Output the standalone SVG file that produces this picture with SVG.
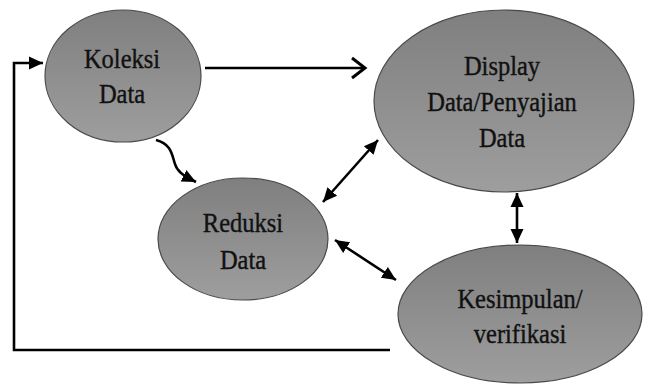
<svg xmlns="http://www.w3.org/2000/svg" width="645" height="385" viewBox="0 0 645 385">
<style>
.node ellipse{fill:url(#g);stroke:#4a4a4a;stroke-width:1.2}
.node text{font-family:'Liberation Serif',serif;font-size:24.5px;fill:#111;stroke:#111;stroke-width:0.35;text-anchor:middle}
.c{fill:none;stroke:#000;stroke-width:2.6}
</style>
<defs>
<linearGradient id="g" x1="0" y1="0" x2="0" y2="1">
<stop offset="0" stop-color="#7f7f7f"/>
<stop offset="1" stop-color="#9e9e9e"/>
</linearGradient>
<marker id="h" markerUnits="userSpaceOnUse" markerWidth="15" markerHeight="15" viewBox="0 0 15 15" refX="14" refY="7.5" orient="auto-start-reverse">
<path d="M0,1 L14,7.5 L0,14 z" fill="#000"/>
</marker>
<marker id="o" markerUnits="userSpaceOnUse" markerWidth="22" markerHeight="28" viewBox="-18 -14 22 28" refX="0" refY="0" orient="auto">
<path d="M-13,-10 L0,0 L-13,10" fill="none" stroke="#000" stroke-width="3"/>
</marker>
</defs>
<g id="connectors">
<path class="c" d="M390,350 L14,350 L14,63 L43,63" stroke-width="3" marker-end="url(#h)"/>
<path class="c" d="M205,68 L365,68" stroke-width="3" marker-end="url(#o)"/>
<path class="c" d="M156,140 C172,144 172,156 175,164 C177,171 182,175 196,182" stroke-width="3" marker-end="url(#h)"/>
<path class="c" d="M323,202 L378,140" marker-start="url(#h)" marker-end="url(#h)"/>
<path class="c" d="M335,240 L396,280" marker-start="url(#h)" marker-end="url(#h)"/>
<path class="c" d="M517,193 L517,243" marker-start="url(#h)" marker-end="url(#h)"/>
</g>
<g id="koleksi" class="node">
<ellipse cx="123" cy="76" rx="78" ry="66"/>
<text transform="translate(122,68) scale(1,1.15)">Koleksi</text>
<text transform="translate(122,103) scale(1,1.15)">Data</text>
</g>
<g id="display" class="node">
<ellipse cx="504" cy="101" rx="130" ry="91"/>
<text transform="translate(502,75) scale(1,1.15)">Display</text>
<text transform="translate(502,111) scale(1,1.15)">Data/Penyajian</text>
<text transform="translate(502,147) scale(1,1.15)">Data</text>
</g>
<g id="reduksi" class="node">
<ellipse cx="243" cy="239" rx="85" ry="61"/>
<text transform="translate(243,232) scale(1,1.15)">Reduksi</text>
<text transform="translate(243,269) scale(1,1.15)">Data</text>
</g>
<g id="kesimpulan" class="node">
<ellipse cx="520" cy="314" rx="122" ry="69"/>
<text transform="translate(520,308) scale(1,1.15)">Kesimpulan/</text>
<text transform="translate(520,343) scale(1,1.15)">verifikasi</text>
</g>
</svg>
